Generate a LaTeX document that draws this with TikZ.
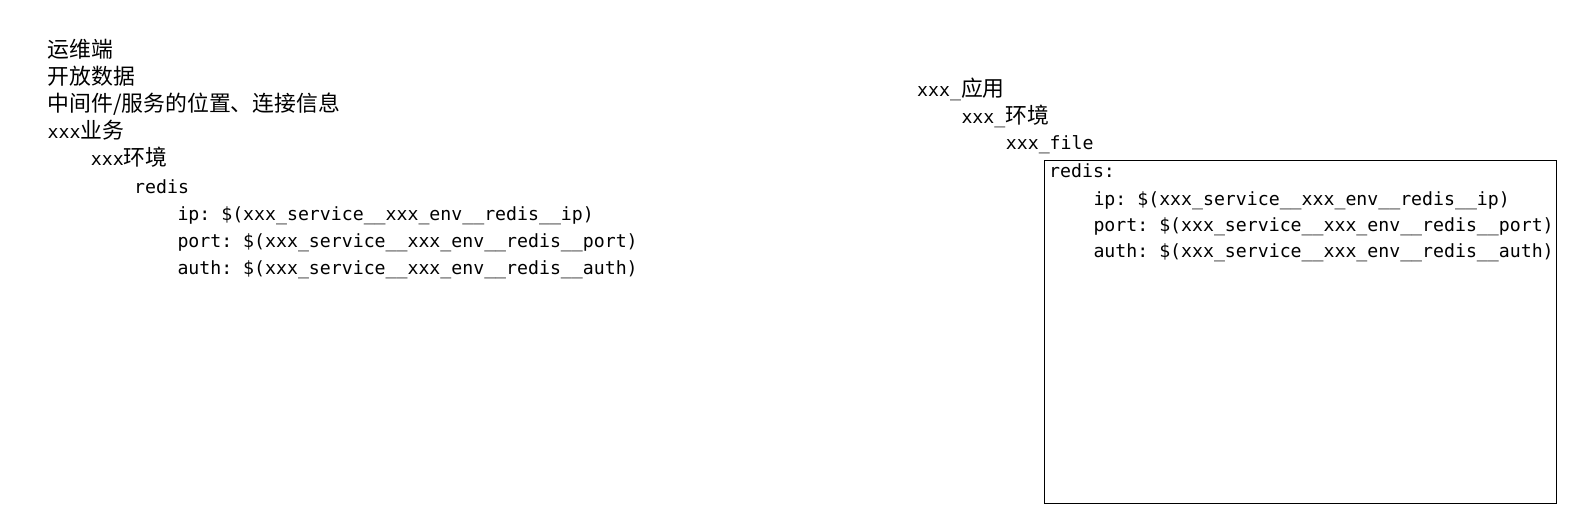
\documentclass[tikz,border=0pt]{standalone}
\usepackage{fontspec}
\newfontfamily\monof{DejaVu Sans Mono}
\newfontfamily\cjk{Noto Sans CJK SC}[Scale=1.2]
\begin{document}
\frenchspacing
\begin{tikzpicture}[x=1pt,y=-1pt,
  txt/.style={anchor=base west,inner sep=0pt,font=\monof\fontsize{18.2}{26}\selectfont},
  frame/.style={draw=black,line width=1pt,inner sep=0pt,anchor=north west}]
\useasboundingbox (0,0) rectangle (1580,523);
% left column
\node[txt] (l1) at (47.4,57) {\cjk 运维端};
\node[txt] (l2) at (47.4,84.2) {\cjk 开放数据};
\node[txt] (l3) at (47.4,111.4) {\cjk 中间件/服务的位置、连接信息};
\node[txt] (l4) at (47.4,138.6) {xxx{\cjk 业务}};
\node[txt] (l5) at (90.7,165.8) {xxx{\cjk 环境}};
\node[txt] (l6) at (134,193) {redis};
\node[txt] (l7) at (177.3,220.2) {ip: \$(xxx\_service\_\_xxx\_env\_\_redis\_\_ip)};
\node[txt] (l8) at (177.3,247.4) {port: \$(xxx\_service\_\_xxx\_env\_\_redis\_\_port)};
\node[txt] (l9) at (177.3,274.6) {auth: \$(xxx\_service\_\_xxx\_env\_\_redis\_\_auth)};
% right column
\node[txt] (r1) at (917,96) {xxx\_{\cjk 应用}};
\node[txt] (r2) at (961.3,123.2) {xxx\_{\cjk 环境}};
\node[txt] (r3) at (1005.7,149.6) {xxx\_file};
\node[frame,minimum width=512pt,minimum height=343pt] (box) at (1044,160) {};
\node[txt] (r4) at (1049,177) {redis:};
\node[txt] (r5) at (1093.3,205) {ip: \$(xxx\_service\_\_xxx\_env\_\_redis\_\_ip)};
\node[txt] (r6) at (1093.3,231.4) {port: \$(xxx\_service\_\_xxx\_env\_\_redis\_\_port)};
\node[txt] (r7) at (1093.3,257.8) {auth: \$(xxx\_service\_\_xxx\_env\_\_redis\_\_auth)};
\end{tikzpicture}
\end{document}
